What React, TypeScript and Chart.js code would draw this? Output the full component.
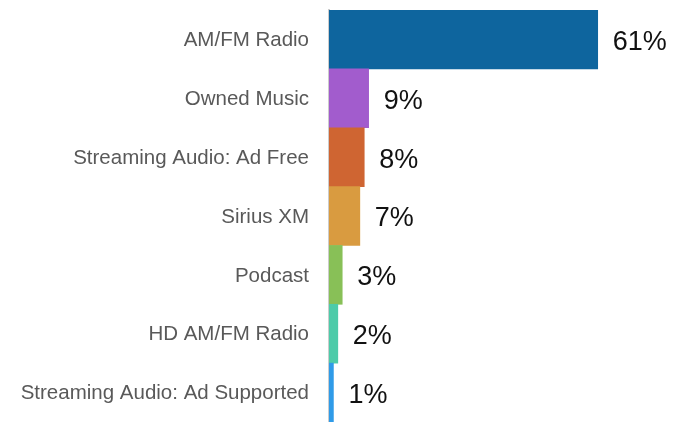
import React, { useEffect, useRef } from "react";
import { Chart, registerables } from "chart.js";

Chart.register(...registerables);

const categories = [
  "AM/FM Radio",
  "Owned Music",
  "Streaming Audio: Ad Free",
  "Sirius XM",
  "Podcast",
  "HD AM/FM Radio",
  "Streaming Audio: Ad Supported",
];
const values = [61, 9, 8, 7, 3, 2, 1];
const valueLabels = ["61%", "9%", "8%", "7%", "3%", "2%", "1%"];
const colors = ["#0e659e", "#a25ccd", "#cf6532", "#d99b40", "#88c057", "#4dcba9", "#2f9be8"];

const valueLabelPlugin = {
  id: "valueLabels",
  afterDatasetsDraw(chart: any) {
    const { ctx } = chart;
    const meta = chart.getDatasetMeta(0);
    ctx.save();
    ctx.font = "27px 'Liberation Sans', Arial, sans-serif";
    ctx.fillStyle = "#111111";
    ctx.textAlign = "left";
    ctx.textBaseline = "middle";
    meta.data.forEach((bar: any, i: number) => {
      ctx.fillText(valueLabels[i], bar.x + 15, bar.y + 3);
    });
    ctx.restore();
  },
};

export default function App() {
  const ref = useRef<HTMLCanvasElement | null>(null);
  useEffect(() => {
    if (!ref.current) return;
    const chart = new Chart(ref.current, {
      type: "bar",
      data: {
        labels: categories,
        datasets: [
          {
            data: values,
            backgroundColor: colors,
            borderWidth: 0,
            categoryPercentage: 1,
            barPercentage: 1,
          },
        ],
      },
      options: {
        indexAxis: "y",
        animation: false,
        responsive: true,
        maintainAspectRatio: false,
        layout: { padding: { top: 10, bottom: -4, left: 0, right: 0 } },
        plugins: { legend: { display: false }, tooltip: { enabled: false } },
        scales: {
          x: { display: false, min: 0, max: 79 },
          y: {
            afterFit: (scale: any) => {
              scale.width = 329;
              scale.paddingTop = 0;
              scale.paddingBottom = 0;
            },
            grid: { display: false, drawTicks: false },
            border: { display: true, color: "#cccccc", width: 2 },
            ticks: {
              padding: 20,
              labelOffset: 1,
              color: "#595959",
              font: { family: "'Liberation Sans', Arial, sans-serif", size: 20.5 },
            },
          },
        },
      },
      plugins: [valueLabelPlugin],
    });
    return () => chart.destroy();
  }, []);
  return (
    <div style={{ position: "fixed", left: 0, top: 0, width: 677, height: 422 }}>
      <canvas ref={ref} />
    </div>
  );
}
